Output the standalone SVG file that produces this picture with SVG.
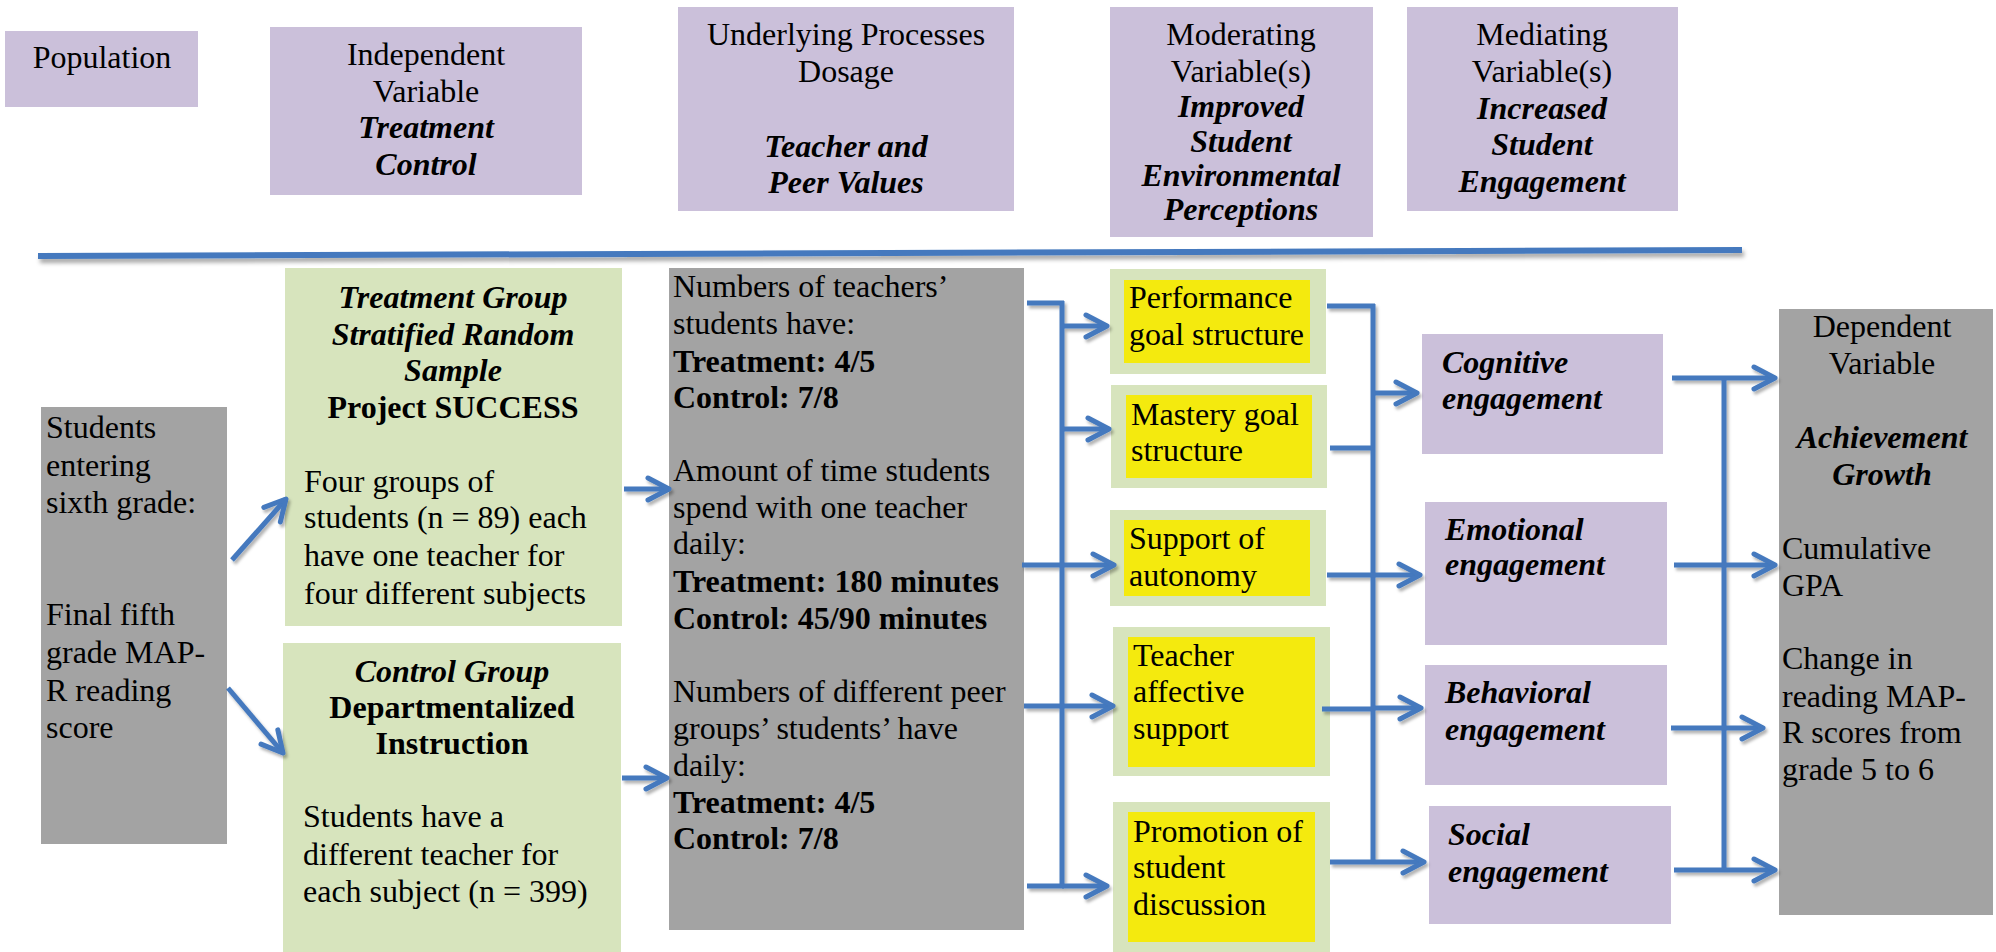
<svg xmlns="http://www.w3.org/2000/svg" width="1996" height="952" viewBox="0 0 1996 952">
<style>
.t{font-family:"Liberation Serif","Times New Roman",serif;font-size:32px;fill:#000}
.b{font-weight:bold}
.i{font-style:italic}
.c{text-anchor:middle}
.lav{fill:#CBC0DA}
.grn{fill:#D7E4BD}
.yel{fill:#F4EA0E}
.gry{fill:#A3A3A3}
.ln{stroke:#4479BE;stroke-width:5;fill:none;stroke-linecap:butt}
.ar{stroke:#4479BE;stroke-width:5;fill:none;marker-end:url(#ah)}
</style>
<defs>
<marker id="ah" markerUnits="userSpaceOnUse" viewBox="-26 -14 30 28" markerWidth="30" markerHeight="28" refX="0" refY="0" orient="auto">
<path d="M-21,-11 L0,0 L-21,11" fill="none" stroke="#4479BE" stroke-width="5" stroke-linecap="round" stroke-linejoin="round"/>
</marker>
<filter id="sh" x="-5%" y="-5%" width="110%" height="110%">
<feDropShadow dx="2" dy="3" stdDeviation="1.5" flood-color="#000" flood-opacity="0.3"/>
</filter>
<filter id="sh2" x="-5%" y="-200%" width="110%" height="500%">
<feDropShadow dx="2" dy="4" stdDeviation="2" flood-color="#000" flood-opacity="0.35"/>
</filter>
</defs>
<rect width="1996" height="952" fill="#fff"/>

<g id="population"><rect class="lav" x="5" y="31" width="193" height="76"/><text class="t c" x="102" y="68">Population</text></g>
<g id="independent"><rect class="lav" x="270" y="27" width="312" height="168"/>
<text class="t c" x="426" y="65">Independent</text><text class="t c" x="426" y="102">Variable</text>
<text class="t c b i" x="426" y="138">Treatment</text><text class="t c b i" x="426" y="175">Control</text></g>
<g id="underlying"><rect class="lav" x="678" y="7" width="336" height="204"/>
<text class="t c" x="846" y="45">Underlying Processes</text><text class="t c" x="846" y="82">Dosage</text>
<text class="t c b i" x="846" y="157">Teacher and</text><text class="t c b i" x="846" y="193">Peer Values</text></g>
<g id="moderating"><rect class="lav" x="1110" y="7" width="263" height="230"/>
<text class="t c" x="1241" y="45">Moderating</text><text class="t c" x="1241" y="82">Variable(s)</text>
<text class="t c b i" x="1241" y="117">Improved</text><text class="t c b i" x="1241" y="152">Student</text>
<text class="t c b i" x="1241" y="186">Environmental</text><text class="t c b i" x="1241" y="220">Perceptions</text></g>
<g id="mediating"><rect class="lav" x="1407" y="7" width="271" height="204"/>
<text class="t c" x="1542" y="45">Mediating</text><text class="t c" x="1542" y="82">Variable(s)</text>
<text class="t c b i" x="1542" y="119">Increased</text><text class="t c b i" x="1542" y="155">Student</text>
<text class="t c b i" x="1542" y="192">Engagement</text></g>

<g id="separator" filter="url(#sh2)"><line x1="38" y1="256" x2="1742" y2="250" stroke="#4479BE" stroke-width="6"/></g>

<g id="students"><rect class="gry" x="41" y="407" width="186" height="437"/>
<text class="t" x="46" y="438">Students</text><text class="t" x="46" y="476">entering</text><text class="t" x="46" y="513">sixth grade:</text>
<text class="t" x="46" y="625">Final fifth</text><text class="t" x="46" y="663">grade MAP-</text><text class="t" x="46" y="701">R reading</text><text class="t" x="46" y="738">score</text></g>

<g id="treatment"><rect class="grn" x="285" y="268" width="337" height="358"/>
<text class="t c b i" x="453" y="308">Treatment Group</text><text class="t c b i" x="453" y="345">Stratified Random</text>
<text class="t c b i" x="453" y="381">Sample</text><text class="t c b" x="453" y="418">Project SUCCESS</text>
<text class="t" x="304" y="492">Four groups of</text><text class="t" x="304" y="528">students (n = 89) each</text>
<text class="t" x="304" y="566">have one teacher for</text><text class="t" x="304" y="604">four different subjects</text></g>

<g id="control"><rect class="grn" x="283" y="643" width="338" height="309"/>
<text class="t c b i" x="452" y="682">Control Group</text><text class="t c b" x="452" y="718">Departmentalized</text>
<text class="t c b" x="452" y="754">Instruction</text>
<text class="t" x="303" y="827">Students have a</text><text class="t" x="303" y="865">different teacher for</text>
<text class="t" x="303" y="902">each subject (n = 399)</text></g>

<g id="dosage"><rect class="gry" x="669" y="268" width="355" height="662"/>
<text class="t" x="673" y="297">Numbers of teachers’</text><text class="t" x="673" y="334">students have:</text>
<text class="t b" x="673" y="372">Treatment: 4/5</text><text class="t b" x="673" y="408">Control: 7/8</text>
<text class="t" x="673" y="481">Amount of time students</text><text class="t" x="673" y="518">spend with one teacher</text>
<text class="t" x="673" y="554">daily:</text>
<text class="t b" x="673" y="592">Treatment: 180 minutes</text><text class="t b" x="673" y="629">Control: 45/90 minutes</text>
<text class="t" x="673" y="702">Numbers of different peer</text><text class="t" x="673" y="739">groups’ students’ have</text>
<text class="t" x="673" y="776">daily:</text>
<text class="t b" x="673" y="813">Treatment: 4/5</text><text class="t b" x="673" y="849">Control: 7/8</text></g>

<g id="performance"><rect class="grn" x="1110" y="269" width="216" height="105"/><rect class="yel" x="1124" y="280" width="186" height="83"/>
<text class="t" x="1129" y="308">Performance</text><text class="t" x="1129" y="345">goal structure</text></g>
<g id="mastery"><rect class="grn" x="1111" y="385" width="216" height="103"/><rect class="yel" x="1126" y="395" width="186" height="83"/>
<text class="t" x="1131" y="425">Mastery goal</text><text class="t" x="1131" y="461">structure</text></g>
<g id="autonomy"><rect class="grn" x="1110" y="510" width="216" height="96"/><rect class="yel" x="1124" y="520" width="186" height="76"/>
<text class="t" x="1129" y="549">Support of</text><text class="t" x="1129" y="586">autonomy</text></g>
<g id="affective"><rect class="grn" x="1113" y="627" width="217" height="149"/><rect class="yel" x="1128" y="637" width="187" height="130"/>
<text class="t" x="1133" y="666">Teacher</text><text class="t" x="1133" y="702">affective</text><text class="t" x="1133" y="739">support</text></g>
<g id="discussion"><rect class="grn" x="1113" y="802" width="217" height="150"/><rect class="yel" x="1128" y="812" width="187" height="130"/>
<text class="t" x="1133" y="842">Promotion of</text><text class="t" x="1133" y="878">student</text><text class="t" x="1133" y="915">discussion</text></g>

<g id="cognitive"><rect class="lav" x="1422" y="334" width="241" height="120"/>
<text class="t b i" x="1442" y="373">Cognitive</text><text class="t b i" x="1442" y="409">engagement</text></g>
<g id="emotional"><rect class="lav" x="1425" y="502" width="242" height="143"/>
<text class="t b i" x="1445" y="540">Emotional</text><text class="t b i" x="1445" y="575">engagement</text></g>
<g id="behavioral"><rect class="lav" x="1425" y="665" width="242" height="120"/>
<text class="t b i" x="1445" y="703">Behavioral</text><text class="t b i" x="1445" y="740">engagement</text></g>
<g id="social"><rect class="lav" x="1429" y="806" width="242" height="118"/>
<text class="t b i" x="1448" y="845">Social</text><text class="t b i" x="1448" y="882">engagement</text></g>

<g id="dependent"><rect class="gry" x="1779" y="309" width="214" height="606"/>
<text class="t c" x="1882" y="337">Dependent</text><text class="t c" x="1882" y="374">Variable</text>
<text class="t c b i" x="1882" y="448">Achievement</text><text class="t c b i" x="1882" y="485">Growth</text>
<text class="t" x="1782" y="559">Cumulative</text><text class="t" x="1782" y="596">GPA</text>
<text class="t" x="1782" y="669">Change in</text><text class="t" x="1782" y="707">reading MAP-</text>
<text class="t" x="1782" y="743">R scores from</text><text class="t" x="1782" y="780">grade 5 to 6</text></g>

<g id="connectors" filter="url(#sh)">
<line class="ar" x1="232" y1="560" x2="286" y2="499"/>
<line class="ar" x1="228" y1="688" x2="283" y2="753"/>
<line class="ar" x1="624" y1="489" x2="669" y2="489"/>
<line class="ar" x1="622" y1="778" x2="667" y2="778"/>

<line class="ln" x1="1062" y1="301" x2="1062" y2="888"/>
<line class="ln" x1="1027" y1="303" x2="1064" y2="303"/>
<line class="ln" x1="1022" y1="565" x2="1062" y2="565"/>
<line class="ln" x1="1024" y1="706" x2="1062" y2="706"/>
<line class="ln" x1="1027" y1="886" x2="1064" y2="886"/>
<line class="ar" x1="1062" y1="326" x2="1107" y2="326"/>
<line class="ar" x1="1062" y1="429" x2="1109" y2="429"/>
<line class="ar" x1="1062" y1="565" x2="1114" y2="565"/>
<line class="ar" x1="1062" y1="706" x2="1113" y2="706"/>
<line class="ar" x1="1062" y1="886" x2="1107" y2="886"/>

<line class="ln" x1="1373" y1="304" x2="1373" y2="864"/>
<line class="ln" x1="1327" y1="306" x2="1375" y2="306"/>
<line class="ln" x1="1330" y1="448" x2="1373" y2="448"/>
<line class="ln" x1="1327" y1="575" x2="1373" y2="575"/>
<line class="ln" x1="1322" y1="709" x2="1373" y2="709"/>
<line class="ln" x1="1330" y1="862" x2="1373" y2="862"/>
<line class="ar" x1="1373" y1="393" x2="1417" y2="393"/>
<line class="ar" x1="1373" y1="575" x2="1420" y2="575"/>
<line class="ar" x1="1373" y1="708" x2="1421" y2="708"/>
<line class="ar" x1="1373" y1="862" x2="1424" y2="862"/>

<line class="ln" x1="1724" y1="376" x2="1724" y2="872"/>
<line class="ln" x1="1672" y1="378" x2="1724" y2="378"/>
<line class="ln" x1="1674" y1="565" x2="1724" y2="565"/>
<line class="ln" x1="1671" y1="728" x2="1724" y2="728"/>
<line class="ln" x1="1674" y1="870" x2="1724" y2="870"/>
<line class="ar" x1="1724" y1="378" x2="1775" y2="378"/>
<line class="ar" x1="1724" y1="565" x2="1775" y2="565"/>
<line class="ar" x1="1724" y1="728" x2="1763" y2="728"/>
<line class="ar" x1="1724" y1="870" x2="1775" y2="870"/>
</g>
</svg>
